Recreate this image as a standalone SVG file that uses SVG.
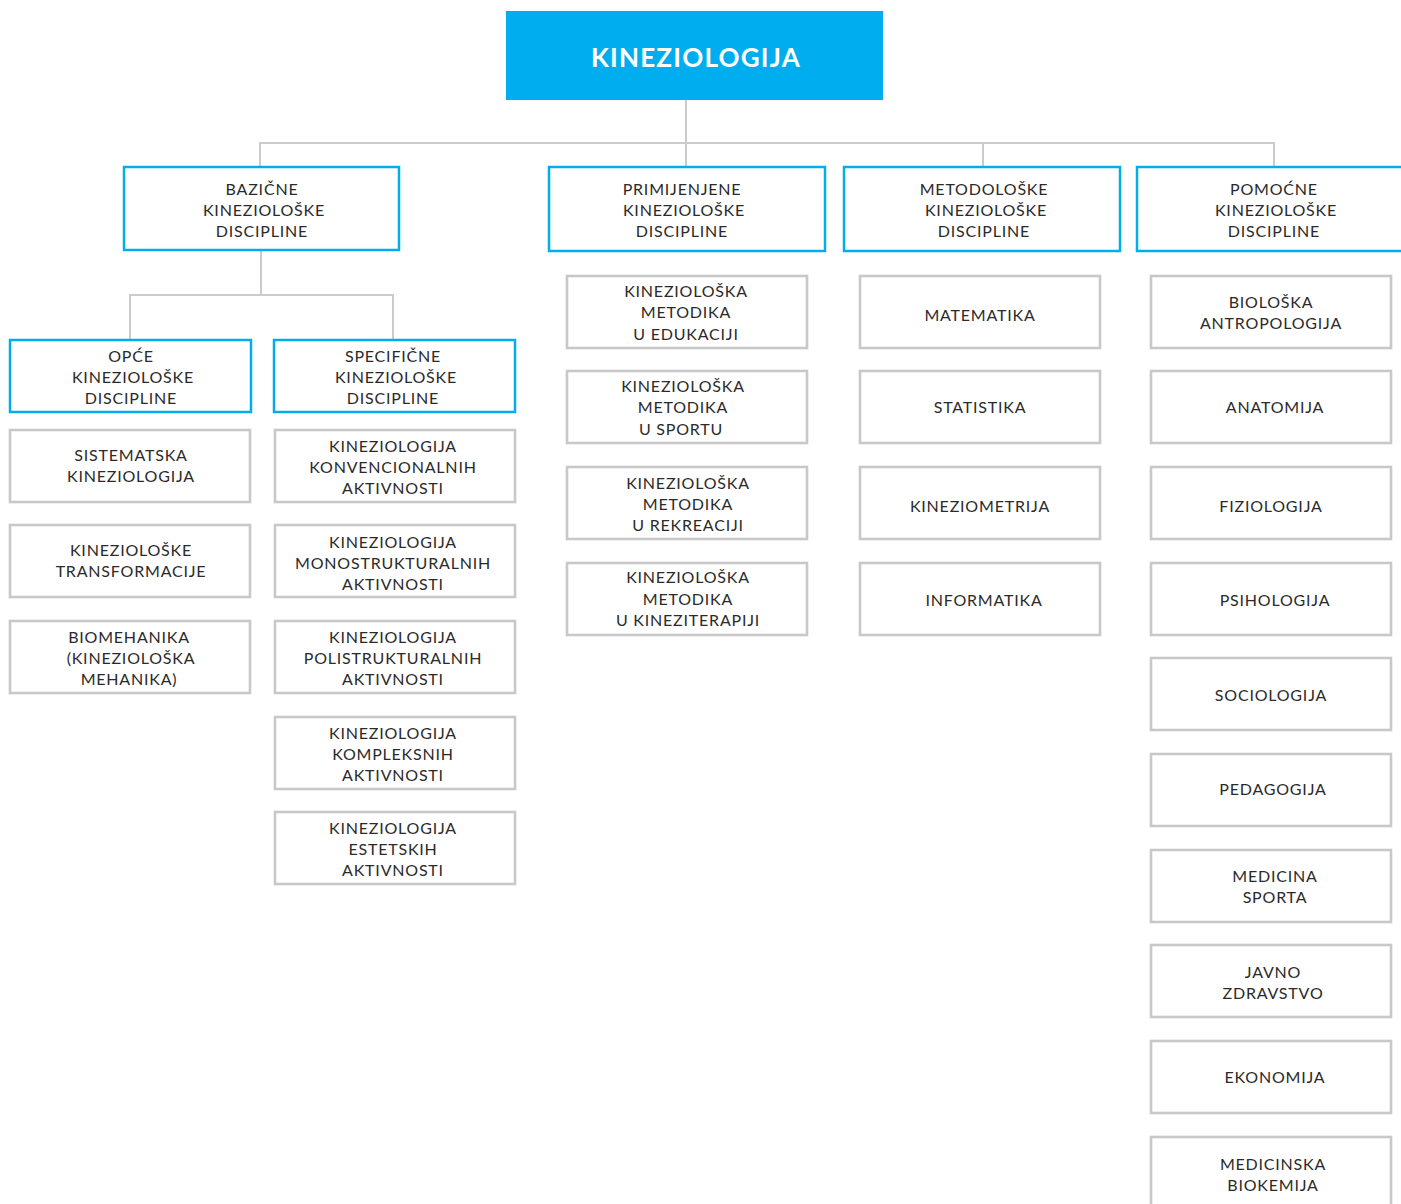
<svg xmlns="http://www.w3.org/2000/svg" width="1401" height="1204" viewBox="0 0 1401 1204">
  <style>
    .bg { fill: #ffffff; }
    .root { fill: #00aeef; }
    .root-text { font-family: Lato, "Open Sans", "Liberation Sans", sans-serif; font-weight: 700; font-size: 26px; letter-spacing: 1.2px; fill: #ffffff; text-anchor: middle; }
    .head { fill: #ffffff; stroke: #00aeef; stroke-width: 2.5; }
    .leaf { fill: #ffffff; stroke: #c8c8c8; stroke-width: 2.6; }
    .lbl { font-family: Lato, "Open Sans", "Liberation Sans", sans-serif; font-size: 16px; letter-spacing: 0.8px; fill: #2b2a2a; text-anchor: middle; }
    .conn { fill: none; stroke: #cbcbcb; stroke-width: 2; }
  </style>

  <rect class="bg" x="0" y="0" width="1401" height="1204"/>

  <!-- connectors -->
  <g id="connectors" class="conn">
    <path d="M686 100 V143"/>
    <path d="M260 166 V143 H1274 V166"/>
    <path d="M686 143 V166"/>
    <path d="M983 143 V166"/>
    <path d="M261 251 V295"/>
    <path d="M130 339 V295 H393 V339"/>
  </g>

  <!-- root -->
  <g id="kineziologija">
    <rect class="root" x="506" y="11" width="377" height="89"/>
    <text class="root-text" x="696" y="67">KINEZIOLOGIJA</text>
  </g>

  <!-- level 1 headers -->
  <g id="bazicne">
    <rect class="head" x="124" y="167" width="275" height="83"/>
    <text class="lbl" x="262" y="195">BAZIČNE</text>
    <text class="lbl" x="264" y="216">KINEZIOLOŠKE</text>
    <text class="lbl" x="262" y="237">DISCIPLINE</text>
  </g>
  <g id="primijenjene">
    <rect class="head" x="549" y="167" width="276" height="84"/>
    <text class="lbl" x="682" y="195">PRIMIJENJENE</text>
    <text class="lbl" x="684" y="216">KINEZIOLOŠKE</text>
    <text class="lbl" x="682" y="237">DISCIPLINE</text>
  </g>
  <g id="metodoloske">
    <rect class="head" x="844" y="167" width="276" height="84"/>
    <text class="lbl" x="984" y="195">METODOLOŠKE</text>
    <text class="lbl" x="986" y="216">KINEZIOLOŠKE</text>
    <text class="lbl" x="984" y="237">DISCIPLINE</text>
  </g>
  <g id="pomocne">
    <rect class="head" x="1137" y="167" width="276" height="84"/>
    <text class="lbl" x="1274" y="195">POMOĆNE</text>
    <text class="lbl" x="1276" y="216">KINEZIOLOŠKE</text>
    <text class="lbl" x="1274" y="237">DISCIPLINE</text>
  </g>

  <!-- level 2 headers under BAZIČNE -->
  <g id="opce">
    <rect class="head" x="10" y="340" width="241" height="72"/>
    <text class="lbl" x="131" y="362">OPĆE</text>
    <text class="lbl" x="133" y="383">KINEZIOLOŠKE</text>
    <text class="lbl" x="131" y="404">DISCIPLINE</text>
  </g>
  <g id="specificne">
    <rect class="head" x="274" y="340" width="241" height="72"/>
    <text class="lbl" x="393" y="362">SPECIFIČNE</text>
    <text class="lbl" x="396" y="383">KINEZIOLOŠKE</text>
    <text class="lbl" x="393" y="404">DISCIPLINE</text>
  </g>

  <!-- OPĆE children -->
  <g id="sistematska">
    <rect class="leaf" x="10" y="430" width="240" height="72"/>
    <text class="lbl" x="131" y="461">SISTEMATSKA</text>
    <text class="lbl" x="131" y="482">KINEZIOLOGIJA</text>
  </g>
  <g id="transformacije">
    <rect class="leaf" x="10" y="525" width="240" height="72"/>
    <text class="lbl" x="131" y="556">KINEZIOLOŠKE</text>
    <text class="lbl" x="131" y="577">TRANSFORMACIJE</text>
  </g>
  <g id="biomehanika">
    <rect class="leaf" x="10" y="621" width="240" height="72"/>
    <text class="lbl" x="129" y="643">BIOMEHANIKA</text>
    <text class="lbl" x="131" y="664">(KINEZIOLOŠKA</text>
    <text class="lbl" x="129" y="685">MEHANIKA)</text>
  </g>

  <!-- SPECIFIČNE children -->
  <g id="konvencionalnih">
    <rect class="leaf" x="275" y="430" width="240" height="72"/>
    <text class="lbl" x="393" y="452">KINEZIOLOGIJA</text>
    <text class="lbl" x="393" y="473">KONVENCIONALNIH</text>
    <text class="lbl" x="393" y="494">AKTIVNOSTI</text>
  </g>
  <g id="monostrukturalnih">
    <rect class="leaf" x="275" y="525" width="240" height="72"/>
    <text class="lbl" x="393" y="548">KINEZIOLOGIJA</text>
    <text class="lbl" x="393" y="569">MONOSTRUKTURALNIH</text>
    <text class="lbl" x="393" y="590">AKTIVNOSTI</text>
  </g>
  <g id="polistrukturalnih">
    <rect class="leaf" x="275" y="621" width="240" height="72"/>
    <text class="lbl" x="393" y="643">KINEZIOLOGIJA</text>
    <text class="lbl" x="393" y="664">POLISTRUKTURALNIH</text>
    <text class="lbl" x="393" y="685">AKTIVNOSTI</text>
  </g>
  <g id="kompleksnih">
    <rect class="leaf" x="275" y="717" width="240" height="72"/>
    <text class="lbl" x="393" y="739">KINEZIOLOGIJA</text>
    <text class="lbl" x="393" y="760">KOMPLEKSNIH</text>
    <text class="lbl" x="393" y="781">AKTIVNOSTI</text>
  </g>
  <g id="estetskih">
    <rect class="leaf" x="275" y="812" width="240" height="72"/>
    <text class="lbl" x="393" y="834">KINEZIOLOGIJA</text>
    <text class="lbl" x="393" y="855">ESTETSKIH</text>
    <text class="lbl" x="393" y="876">AKTIVNOSTI</text>
  </g>

  <!-- PRIMIJENJENE children -->
  <g id="metodika-edukacija">
    <rect class="leaf" x="567" y="276" width="240" height="72"/>
    <text class="lbl" x="686" y="297">KINEZIOLOŠKA</text>
    <text class="lbl" x="686" y="318">METODIKA</text>
    <text class="lbl" x="686" y="340">U EDUKACIJI</text>
  </g>
  <g id="metodika-sport">
    <rect class="leaf" x="567" y="371" width="240" height="72"/>
    <text class="lbl" x="683" y="392">KINEZIOLOŠKA</text>
    <text class="lbl" x="683" y="413">METODIKA</text>
    <text class="lbl" x="681" y="435">U SPORTU</text>
  </g>
  <g id="metodika-rekreacija">
    <rect class="leaf" x="567" y="467" width="240" height="72"/>
    <text class="lbl" x="688" y="489">KINEZIOLOŠKA</text>
    <text class="lbl" x="688" y="510">METODIKA</text>
    <text class="lbl" x="688" y="531">U REKREACIJI</text>
  </g>
  <g id="metodika-kineziterapija">
    <rect class="leaf" x="567" y="563" width="240" height="72"/>
    <text class="lbl" x="688" y="583">KINEZIOLOŠKA</text>
    <text class="lbl" x="688" y="605">METODIKA</text>
    <text class="lbl" x="688" y="626">U KINEZITERAPIJI</text>
  </g>

  <!-- METODOLOŠKE children -->
  <g id="matematika">
    <rect class="leaf" x="860" y="276" width="240" height="72"/>
    <text class="lbl" x="980" y="321">MATEMATIKA</text>
  </g>
  <g id="statistika">
    <rect class="leaf" x="860" y="371" width="240" height="72"/>
    <text class="lbl" x="980" y="413">STATISTIKA</text>
  </g>
  <g id="kineziometrija">
    <rect class="leaf" x="860" y="467" width="240" height="72"/>
    <text class="lbl" x="980" y="512">KINEZIOMETRIJA</text>
  </g>
  <g id="informatika">
    <rect class="leaf" x="860" y="563" width="240" height="72"/>
    <text class="lbl" x="984" y="606">INFORMATIKA</text>
  </g>

  <!-- POMOĆNE children -->
  <g id="bioloska-antropologija">
    <rect class="leaf" x="1151" y="276" width="240" height="72"/>
    <text class="lbl" x="1271" y="308">BIOLOŠKA</text>
    <text class="lbl" x="1271" y="329">ANTROPOLOGIJA</text>
  </g>
  <g id="anatomija">
    <rect class="leaf" x="1151" y="371" width="240" height="72"/>
    <text class="lbl" x="1275" y="413">ANATOMIJA</text>
  </g>
  <g id="fiziologija">
    <rect class="leaf" x="1151" y="467" width="240" height="72"/>
    <text class="lbl" x="1271" y="512">FIZIOLOGIJA</text>
  </g>
  <g id="psihologija">
    <rect class="leaf" x="1151" y="563" width="240" height="72"/>
    <text class="lbl" x="1275" y="606">PSIHOLOGIJA</text>
  </g>
  <g id="sociologija">
    <rect class="leaf" x="1151" y="658" width="240" height="72"/>
    <text class="lbl" x="1271" y="701">SOCIOLOGIJA</text>
  </g>
  <g id="pedagogija">
    <rect class="leaf" x="1151" y="754" width="240" height="72"/>
    <text class="lbl" x="1273" y="795">PEDAGOGIJA</text>
  </g>
  <g id="medicina-sporta">
    <rect class="leaf" x="1151" y="850" width="240" height="72"/>
    <text class="lbl" x="1275" y="882">MEDICINA</text>
    <text class="lbl" x="1275" y="903">SPORTA</text>
  </g>
  <g id="javno-zdravstvo">
    <rect class="leaf" x="1151" y="945" width="240" height="72"/>
    <text class="lbl" x="1273" y="978">JAVNO</text>
    <text class="lbl" x="1273" y="999">ZDRAVSTVO</text>
  </g>
  <g id="ekonomija">
    <rect class="leaf" x="1151" y="1041" width="240" height="72"/>
    <text class="lbl" x="1275" y="1083">EKONOMIJA</text>
  </g>
  <g id="medicinska-biokemija">
    <rect class="leaf" x="1151" y="1137" width="240" height="72"/>
    <text class="lbl" x="1273" y="1170">MEDICINSKA</text>
    <text class="lbl" x="1273" y="1191">BIOKEMIJA</text>
  </g>
</svg>
